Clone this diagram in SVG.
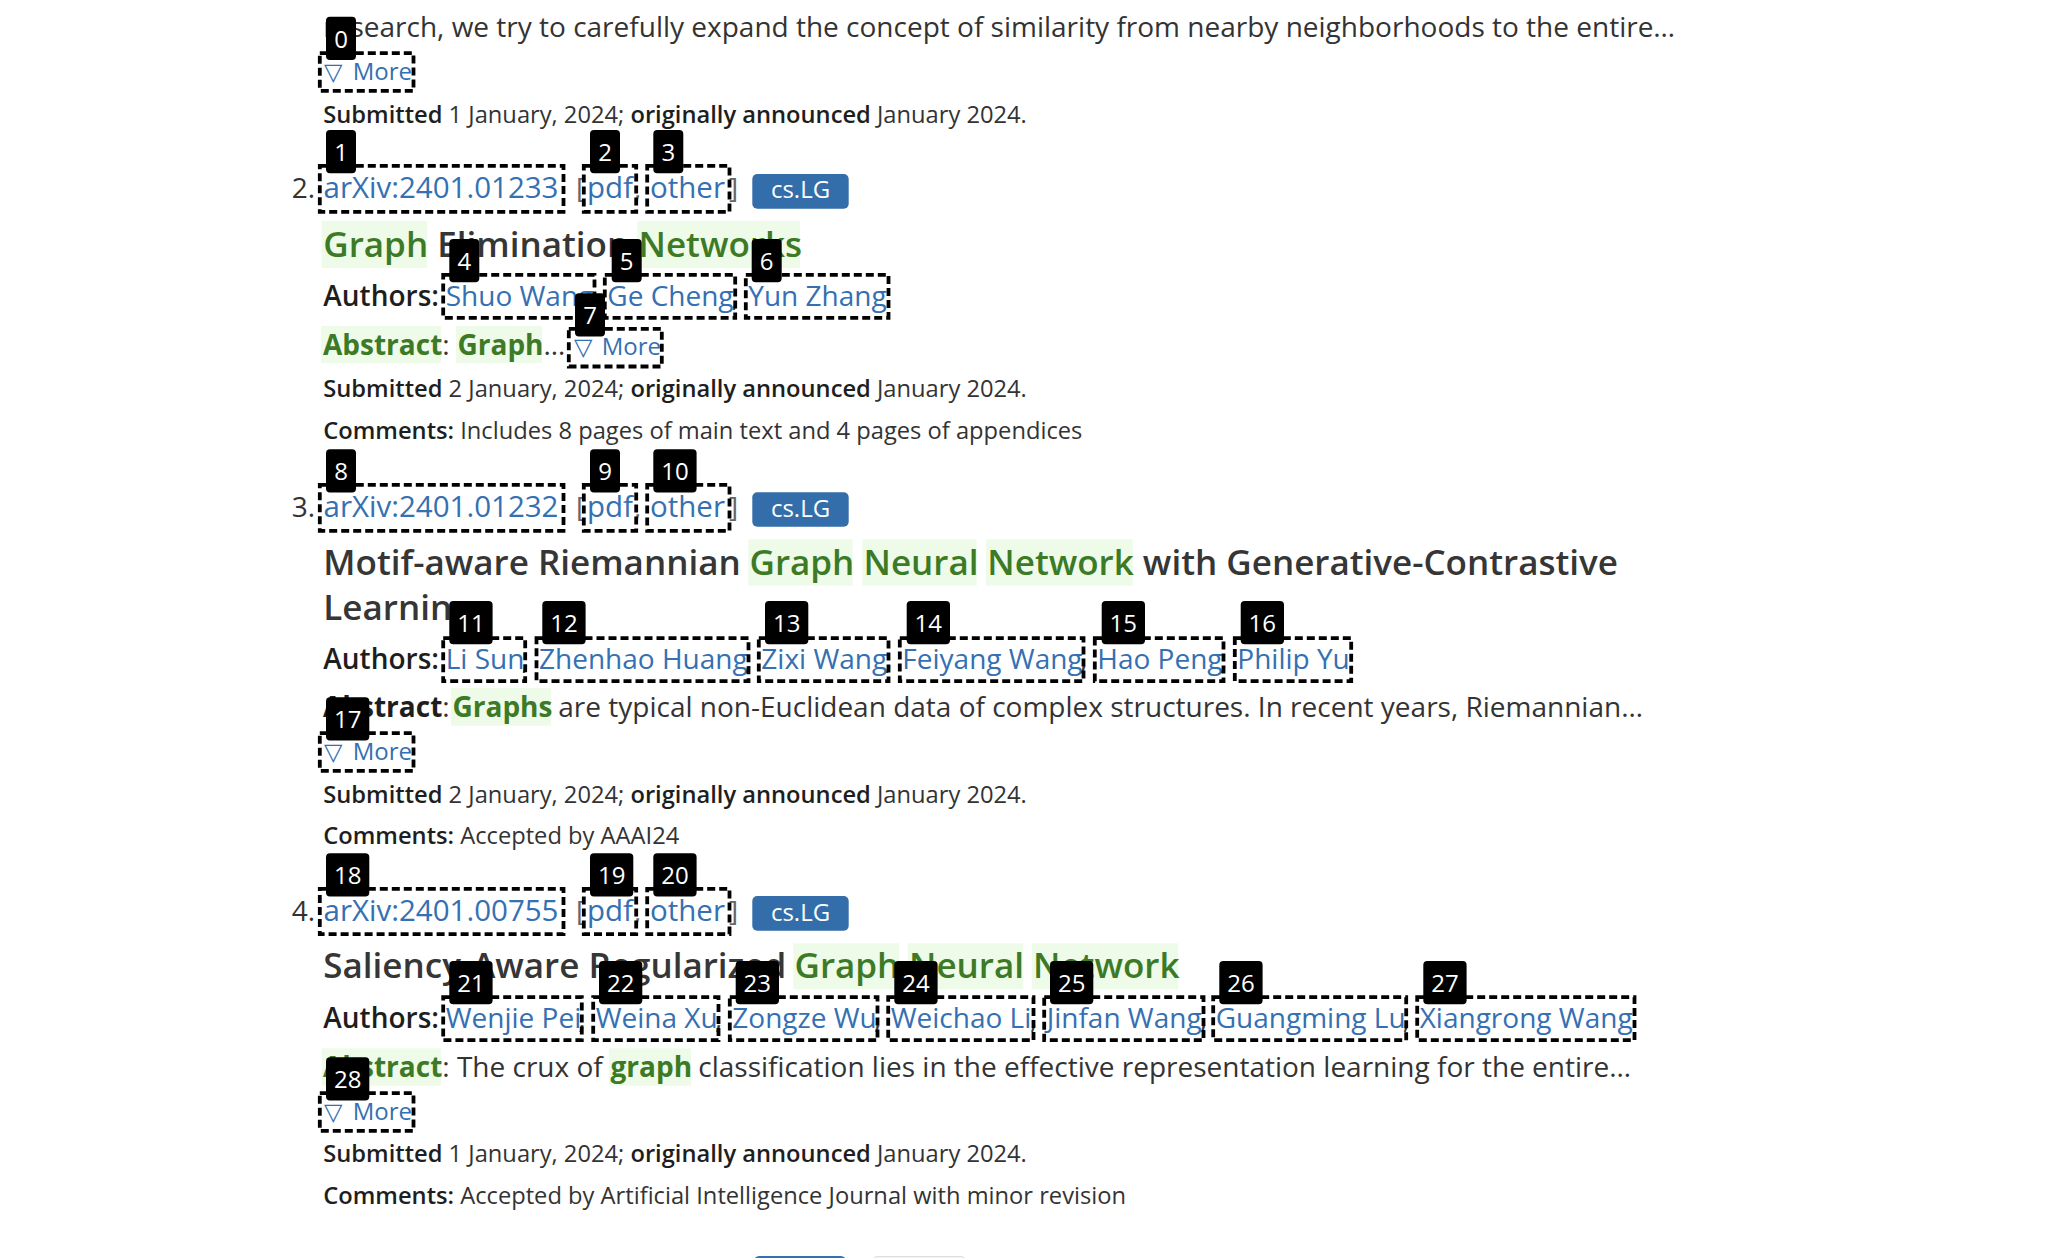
<svg xmlns="http://www.w3.org/2000/svg" width="2048" height="1258" viewBox="0 0 2048 1258">
<style>
text{font-family:"Open Sans","Noto Sans","DejaVu Sans",sans-serif;}
.body{font-size:28px;fill:#333;}
.id{font-size:29.5px;}
.small{font-size:23.7px;fill:#333;}
.title{font-size:35px;font-weight:600;fill:#363636;}
.bold{font-weight:700;}
.semi{font-weight:600;}
.dark{fill:#1e1e1e;}
.link{fill:#3470b2;}
.gray{fill:#666;}
.hlt{fill:#3c7a26;}
.hl{fill:#effbe9;}
.more{font-size:24px;fill:#3470b2;}
.tri{font-family:"DejaVu Sans",sans-serif;font-size:24px;fill:#3470b2;}
.badge rect{fill:#336eab;}
.badge text{font-size:24px;fill:#fff;text-anchor:middle;}
.dash{fill:none;stroke:#000;stroke-width:3.8;stroke-dasharray:8 4;}
.lab rect{fill:#000;}
.lab text{font-size:24px;fill:#fff;text-anchor:middle;}
</style>

<!-- highlight backgrounds -->
<g id="highlights">
<rect class="hl" x="321.7" y="221" width="105.6" height="47"/>
<rect class="hl" x="637.3" y="221" width="162.7" height="47"/>
<rect class="hl" x="321" y="326" width="120" height="37"/>
<rect class="hl" x="456" y="326" width="86" height="37"/>
<rect class="hl" x="748.3" y="539.3" width="104.4" height="46.4"/>
<rect class="hl" x="862.3" y="539.3" width="114.4" height="46.4"/>
<rect class="hl" x="986" y="539.3" width="146.7" height="46.4"/>
<rect class="hl" x="451" y="688" width="100" height="37.7"/>
<rect class="hl" x="793.3" y="943.3" width="105.7" height="46"/>
<rect class="hl" x="907.7" y="943.3" width="115.6" height="46"/>
<rect class="hl" x="1031.7" y="943.3" width="146.6" height="46"/>
<rect class="hl" x="321.7" y="1048.3" width="119.3" height="37.4"/>
<rect class="hl" x="609" y="1048.3" width="82" height="37.4"/>
</g>

<!-- Entry 1 (partial) -->
<g id="entry1">
<text class="body" x="323.3" y="37">research, we try to carefully expand the concept of similarity from nearby neighborhoods to the entire…</text>
<text class="tri" x="324" y="80">▽</text><text class="more" x="352.7" y="80">More</text>
<text class="small" x="323.3" y="123"><tspan class="semi dark">Submitted</tspan> 1 January, 2024; <tspan class="semi dark">originally announced</tspan> January 2024.</text>
</g>

<!-- Entry 2 -->
<g id="entry2">
<text class="body" x="291.7" y="198.3">2.</text>
<text class="body id link" x="323.5" y="198.3">arXiv:2401.01233</text>
<text class="body gray" x="576" y="198.3">[</text>
<text class="body id link" x="587" y="198.3">pdf</text>
<text class="body gray" x="634" y="198.3">,</text>
<text class="body id link" x="650" y="198.3">other</text>
<text class="body gray" x="729" y="198.3">]</text>
<g class="badge"><rect x="752.3" y="174" width="96.4" height="34.7" rx="5"/><text x="800.5" y="198.3">cs.LG</text></g>
<text class="title" y="257"><tspan x="323.3" class="hlt">Graph</tspan><tspan> Elimination </tspan><tspan x="638.5" class="hlt">Networks</tspan></text>
<text class="body semi dark" x="323.3" y="306">Authors:</text>
<text class="body link" x="445.7" y="306">Shuo Wang</text><text class="body" x="591" y="306">,</text>
<text class="body link" x="607.3" y="306">Ge Cheng</text><text class="body" x="731.7" y="306">,</text>
<text class="body link" x="748.3" y="306">Yun Zhang</text>
<text class="body" y="355"><tspan x="323" class="hlt bold">Abstract</tspan><tspan>: </tspan><tspan x="457.5" class="hlt bold">Graph</tspan><tspan>…</tspan></text>
<text class="tri" x="574" y="355">▽</text><text class="more" x="601.7" y="355">More</text>
<text class="small" x="323.3" y="396.7"><tspan class="semi dark">Submitted</tspan> 2 January, 2024; <tspan class="semi dark">originally announced</tspan> January 2024.</text>
<text class="small" x="323.3" y="439"><tspan class="semi dark">Comments:</tspan> Includes 8 pages of main text and 4 pages of appendices</text>
</g>

<!-- Entry 3 -->
<g id="entry3">
<text class="body" x="291.7" y="517.3">3.</text>
<text class="body id link" x="323.5" y="517.3">arXiv:2401.01232</text>
<text class="body gray" x="576" y="517.3">[</text>
<text class="body id link" x="587" y="517.3">pdf</text>
<text class="body gray" x="634" y="517.3">,</text>
<text class="body id link" x="650" y="517.3">other</text>
<text class="body gray" x="729" y="517.3">]</text>
<g class="badge"><rect x="752.3" y="492.3" width="96.4" height="34.4" rx="5"/><text x="800.5" y="516.5">cs.LG</text></g>
<text class="title" y="575"><tspan x="323.3">Motif-aware Riemannian </tspan><tspan x="749.5" class="hlt">Graph</tspan><tspan x="863.5" class="hlt">Neural</tspan><tspan x="987.3" class="hlt">Network</tspan><tspan> with Generative-Contrastive</tspan></text>
<text class="title" x="323.3" y="620">Learning</text>
<text class="body semi dark" x="323.3" y="669.3">Authors:</text>
<text class="body link" x="445.7" y="669.3">Li Sun</text><text class="body" x="521.7" y="669.3">,</text>
<text class="body link" x="539" y="669.3">Zhenhao Huang</text><text class="body" x="745" y="669.3">,</text>
<text class="body link" x="761.3" y="669.3">Zixi Wang</text><text class="body" x="885" y="669.3">,</text>
<text class="body link" x="902.3" y="669.3">Feiyang Wang</text><text class="body" x="1080" y="669.3">,</text>
<text class="body link" x="1097.3" y="669.3">Hao Peng</text><text class="body" x="1220" y="669.3">,</text>
<text class="body link" x="1237.3" y="669.3">Philip Yu</text>
<text class="body" y="716.7"><tspan x="323" class="bold dark">Abstract</tspan><tspan>: </tspan><tspan x="452.5" class="hlt bold">Graphs</tspan><tspan x="551"> are typical non-Euclidean data of complex structures. In recent years, Riemannian…</tspan></text>
<text class="tri" x="324" y="760">▽</text><text class="more" x="352.7" y="760">More</text>
<text class="small" x="323.3" y="802.7"><tspan class="semi dark">Submitted</tspan> 2 January, 2024; <tspan class="semi dark">originally announced</tspan> January 2024.</text>
<text class="small" x="323.3" y="844"><tspan class="semi dark">Comments:</tspan> Accepted by AAAI24</text>
</g>

<!-- Entry 4 -->
<g id="entry4">
<text class="body" x="291.7" y="921">4.</text>
<text class="body id link" x="323.5" y="921">arXiv:2401.00755</text>
<text class="body gray" x="576" y="921">[</text>
<text class="body id link" x="587" y="921">pdf</text>
<text class="body gray" x="634" y="921">,</text>
<text class="body id link" x="650" y="921">other</text>
<text class="body gray" x="729" y="921">]</text>
<g class="badge"><rect x="752.3" y="896" width="96.4" height="34.7" rx="5"/><text x="800.5" y="920.5">cs.LG</text></g>
<text class="title" y="978.3"><tspan x="323.3">Saliency-Aware Regularized </tspan><tspan x="794.5" class="hlt">Graph</tspan><tspan x="909" class="hlt">Neural</tspan><tspan x="1033" class="hlt">Network</tspan></text>
<text class="body semi dark" x="323.3" y="1028.3">Authors:</text>
<text class="body link" x="445.7" y="1028.3">Wenjie Pei</text><text class="body" x="578.3" y="1028.3">,</text>
<text class="body link" x="595.7" y="1028.3">Weina Xu</text><text class="body" x="715" y="1028.3">,</text>
<text class="body link" x="732.3" y="1028.3">Zongze Wu</text><text class="body" x="874" y="1028.3">,</text>
<text class="body link" x="890.7" y="1028.3">Weichao Li</text><text class="body" x="1030" y="1028.3">,</text>
<text class="body link" x="1046.7" y="1028.3">Jinfan Wang</text><text class="body" x="1200" y="1028.3">,</text>
<text class="body link" x="1215.7" y="1028.3">Guangming Lu</text><text class="body" x="1402.7" y="1028.3">,</text>
<text class="body link" x="1419.7" y="1028.3">Xiangrong Wang</text>
<text class="body" y="1077"><tspan x="323" class="hlt bold">Abstract</tspan><tspan>: The crux of </tspan><tspan x="610.5" class="hlt bold">graph</tspan><tspan x="691"> classification lies in the effective representation learning for the entire…</tspan></text>
<text class="tri" x="324" y="1120">▽</text><text class="more" x="352.7" y="1120">More</text>
<text class="small" x="323.3" y="1162.3"><tspan class="semi dark">Submitted</tspan> 1 January, 2024; <tspan class="semi dark">originally announced</tspan> January 2024.</text>
<text class="small" x="323.3" y="1204"><tspan class="semi dark">Comments:</tspan> Accepted by Artificial Intelligence Journal with minor revision</text>
</g>

<!-- bottom buttons (cut off) -->
<g id="pager">
<rect x="753.3" y="1256" width="93.4" height="20" rx="6" fill="#3470b2"/>
<rect x="871.7" y="1256.5" width="95" height="20" rx="6" fill="#f3f3f3" stroke="#ddd" stroke-width="1"/>
</g>

<!-- annotated elements: dashed outlines with numbered labels -->
<g id="n0"><rect class="dash" x="319.8" y="53.2" width="93.7" height="37.6"/><g class="lab"><rect x="326" y="16.7" width="30" height="43.3" rx="4"/><text x="341" y="47.8">0</text></g></g>
<g id="n1"><rect class="dash" x="319.8" y="165.8" width="243.7" height="46"/><g class="lab"><rect x="326" y="130" width="30" height="43.3" rx="4"/><text x="341" y="161.1">1</text></g></g>
<g id="n2"><rect class="dash" x="583.8" y="165.8" width="52.4" height="46"/><g class="lab"><rect x="590" y="130" width="30" height="43.3" rx="4"/><text x="605" y="161.1">2</text></g></g>
<g id="n3"><rect class="dash" x="647.2" y="165.8" width="82.3" height="46"/><g class="lab"><rect x="653.3" y="130" width="30" height="43.3" rx="4"/><text x="668.3" y="161.1">3</text></g></g>
<g id="n4"><rect class="dash" x="443.2" y="274.8" width="151.3" height="43"/><g class="lab"><rect x="449.3" y="239" width="30" height="43.3" rx="4"/><text x="464.3" y="270.1">4</text></g></g>
<g id="n5"><rect class="dash" x="604.8" y="274.8" width="130.4" height="43"/><g class="lab"><rect x="611.7" y="239" width="30" height="43.3" rx="4"/><text x="626.7" y="270.1">5</text></g></g>
<g id="n6"><rect class="dash" x="745.8" y="274.8" width="142.7" height="43"/><g class="lab"><rect x="751.7" y="239" width="30" height="43.3" rx="4"/><text x="766.7" y="270.1">6</text></g></g>
<g id="n7"><rect class="dash" x="568.8" y="328.8" width="93" height="37.7"/><g class="lab"><rect x="575" y="293.3" width="30" height="43.3" rx="4"/><text x="590" y="324.4">7</text></g></g>
<g id="n8"><rect class="dash" x="319.8" y="484.8" width="243.7" height="46"/><g class="lab"><rect x="326" y="449.3" width="30" height="43.3" rx="4"/><text x="341" y="480.4">8</text></g></g>
<g id="n9"><rect class="dash" x="583.8" y="484.8" width="52.4" height="46"/><g class="lab"><rect x="590" y="449.3" width="30" height="43.3" rx="4"/><text x="605" y="480.4">9</text></g></g>
<g id="n10"><rect class="dash" x="647.2" y="484.8" width="82.3" height="46"/><g class="lab"><rect x="653.3" y="449.3" width="43.3" height="43.3" rx="4"/><text x="675" y="480.4">10</text></g></g>
<g id="n11"><rect class="dash" x="443.2" y="638.2" width="82" height="43"/><g class="lab"><rect x="449.3" y="601" width="43.3" height="43.3" rx="4"/><text x="471" y="632.1">11</text></g></g>
<g id="n12"><rect class="dash" x="536.5" y="638.2" width="212" height="43"/><g class="lab"><rect x="542.3" y="601" width="43.3" height="43.3" rx="4"/><text x="564" y="632.1">12</text></g></g>
<g id="n13"><rect class="dash" x="758.8" y="638.2" width="129.7" height="43"/><g class="lab"><rect x="765" y="601" width="43.3" height="43.3" rx="4"/><text x="786.7" y="632.1">13</text></g></g>
<g id="n14"><rect class="dash" x="899.8" y="638.2" width="183.7" height="43"/><g class="lab"><rect x="906.7" y="601" width="43.3" height="43.3" rx="4"/><text x="928.3" y="632.1">14</text></g></g>
<g id="n15"><rect class="dash" x="1094.8" y="638.2" width="128.7" height="43"/><g class="lab"><rect x="1101.7" y="601" width="43.3" height="43.3" rx="4"/><text x="1123.3" y="632.1">15</text></g></g>
<g id="n16"><rect class="dash" x="1234.8" y="638.2" width="116.4" height="43"/><g class="lab"><rect x="1240.7" y="601" width="43.3" height="43.3" rx="4"/><text x="1262.3" y="632.1">16</text></g></g>
<g id="n17"><rect class="dash" x="319.8" y="733.2" width="93.7" height="37.6"/><g class="lab"><rect x="326" y="697.3" width="43.3" height="43.3" rx="4"/><text x="347.7" y="728.4">17</text></g></g>
<g id="n18"><rect class="dash" x="319.8" y="888.8" width="243.7" height="45.4"/><g class="lab"><rect x="326" y="853.3" width="43.3" height="43.3" rx="4"/><text x="347.7" y="884.4">18</text></g></g>
<g id="n19"><rect class="dash" x="583.8" y="888.8" width="52.4" height="45.4"/><g class="lab"><rect x="590" y="853.3" width="43.3" height="43.3" rx="4"/><text x="611.7" y="884.4">19</text></g></g>
<g id="n20"><rect class="dash" x="647.2" y="888.8" width="82.3" height="45.4"/><g class="lab"><rect x="653.3" y="853.3" width="43.3" height="43.3" rx="4"/><text x="675" y="884.4">20</text></g></g>
<g id="n21"><rect class="dash" x="443.2" y="997.2" width="138.6" height="43"/><g class="lab"><rect x="449.3" y="961" width="43.3" height="43.3" rx="4"/><text x="471" y="992.1">21</text></g></g>
<g id="n22"><rect class="dash" x="593.2" y="997.2" width="125.3" height="43"/><g class="lab"><rect x="599" y="961" width="43.3" height="43.3" rx="4"/><text x="620.7" y="992.1">22</text></g></g>
<g id="n23"><rect class="dash" x="729.8" y="997.2" width="147.7" height="43"/><g class="lab"><rect x="735.7" y="961" width="43.3" height="43.3" rx="4"/><text x="757.3" y="992.1">23</text></g></g>
<g id="n24"><rect class="dash" x="888.2" y="997.2" width="145.3" height="43"/><g class="lab"><rect x="894.3" y="961" width="43.3" height="43.3" rx="4"/><text x="916" y="992.1">24</text></g></g>
<g id="n25"><rect class="dash" x="1044.2" y="997.2" width="159.3" height="43"/><g class="lab"><rect x="1050" y="961" width="43.3" height="43.3" rx="4"/><text x="1071.7" y="992.1">25</text></g></g>
<g id="n26"><rect class="dash" x="1213.2" y="997.2" width="193" height="43"/><g class="lab"><rect x="1219.3" y="961" width="43.3" height="43.3" rx="4"/><text x="1241" y="992.1">26</text></g></g>
<g id="n27"><rect class="dash" x="1417.2" y="997.2" width="217.3" height="43"/><g class="lab"><rect x="1423.3" y="961" width="43.3" height="43.3" rx="4"/><text x="1445" y="992.1">27</text></g></g>
<g id="n28"><rect class="dash" x="319.8" y="1093.2" width="93.7" height="37.6"/><g class="lab"><rect x="326" y="1057.3" width="43.3" height="43.3" rx="4"/><text x="347.7" y="1088.4">28</text></g></g>
</svg>
